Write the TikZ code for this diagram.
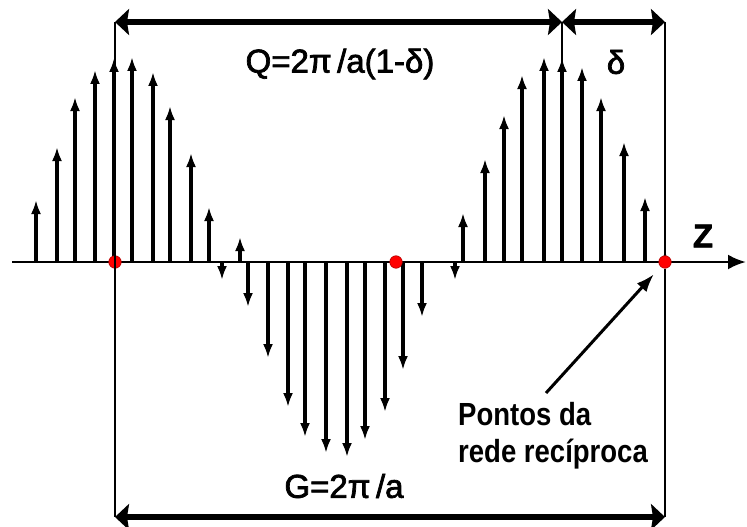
\documentclass[tikz,border=0pt]{standalone}
\usepackage{fontspec}
\setmainfont{Liberation Sans}
\newfontfamily\labelfont[FakeBold=2.2]{Liberation Sans}
\newfontfamily\narrowfont[FakeStretch=0.86]{Liberation Sans}
\usetikzlibrary{arrows.meta, positioning}
\definecolor{dotred}{HTML}{FF0000}
\definecolor{inkblack}{HTML}{000000}

\begin{document}
\begin{tikzpicture}[
    x=1pt, y=-1pt,
    spike/.style={line width=3.2pt, inkblack, -{Latex[length=14pt, width=10pt]}},
    zaxis/.style={line width=2.8pt, inkblack, -{Latex[length=18pt, width=15pt]}},
    dimarr/.style={line width=6.5pt, inkblack,
        {Stealth[length=14pt, width=26pt, inset=2pt]}-{Stealth[length=14pt, width=26pt, inset=2pt]}},
    guide/.style={line width=1.5pt, inkblack},
    pointer/.style={line width=3pt, inkblack, -{Latex[length=18pt, width=13pt]}},
    lattice/.style={circle, fill=dotred, draw=dotred!70!black, line width=0.6pt,
        inner sep=0pt, minimum size=12.5pt},
    lbl/.style={font=\labelfont\fontsize{33}{38}\selectfont, inner sep=0pt},
    note/.style={font=\narrowfont\bfseries\fontsize{32}{37}\selectfont, align=left, inner sep=0pt}
]
    \useasboundingbox (0,0) rectangle (747,527);

    % spikes: x / tip height (pixels of the sketch)
    \foreach \x/\y in {36/200, 57/147, 75/97, 95/70, 114/58, 132/57, 153/72, 170/106,
                       191/153, 209/207, 222/280, 240/237, 248/307, 268/358, 288/407,
                       305/437, 326/453, 347/457, 365/440, 385/412, 403/370, 422/317,
                       455/280, 463/213, 485/159, 504/115, 522/75, 544/57, 562/58,
                       582/67, 601/97, 624/142, 645/197, 665/250}
        \draw[spike] (\x,262) -- (\x,\y);

    \coordinate (zs) at (12,262);
    \coordinate (ze) at (746,262);
    \draw[zaxis] (zs) -- (ze);

    \node[lattice] (ka) at (115,262) {};
    \node[lattice] (kb) at (396,262) {};
    \node[lattice] (kc) at (665,262) {};

    \coordinate (qtop) at (562,22);
    \coordinate (gbot) at (115,517);

    \draw[guide] (ka |- qtop) -- (ka.south);
    \draw[guide] (ka.south) -- (gbot);
    \draw[guide] (qtop) -- (qtop |- ka);
    \draw[guide] (kc |- qtop) -- (kc.north);
    \draw[guide] (kc.south) -- (kc |- gbot);

    \draw[dimarr] (ka |- qtop) -- (qtop);
    \draw[dimarr] (qtop) -- (kc |- qtop);
    \draw[dimarr] (gbot) -- (kc |- gbot);

    \node[lbl] (qlabel) at (340,64) {Q=2π\,/a(1-δ)};
    \node[lbl] (dlabel) at (616,62) {δ};
    \node[lbl] (zlabel) at (703,236) {\bfseries Z};
    \node[lbl] (glabel) at (344,486) {G=2π\,/a};

    \node[note, anchor=north west] (pontos) at (458,402) {Pontos da\\rede recíproca};
    \coordinate (tail) at (546,393);
    \draw[pointer, shorten >=10pt] (tail) -- (kc);
\end{tikzpicture}
\end{document}
